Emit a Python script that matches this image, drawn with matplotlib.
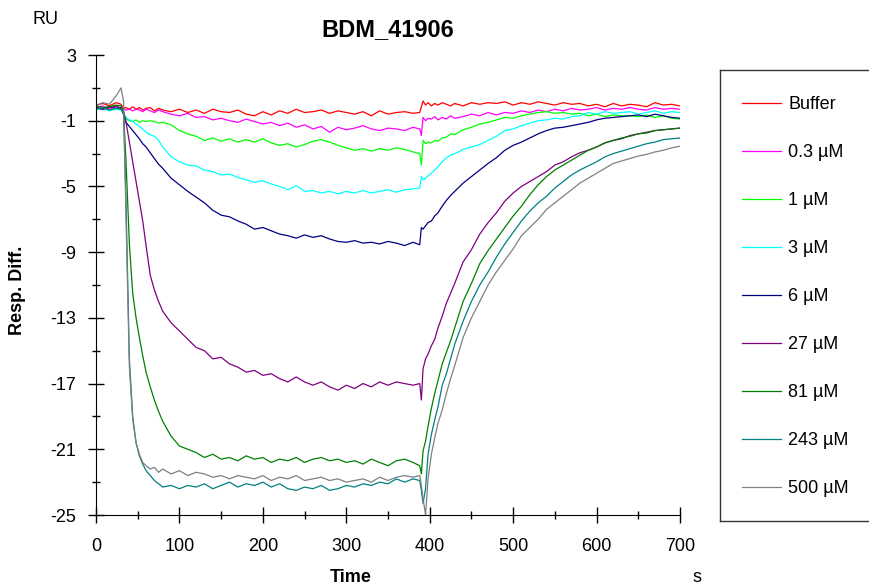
import matplotlib
matplotlib.use('Agg')
import matplotlib.pyplot as plt
from matplotlib.ticker import MultipleLocator

plt.rcParams['font.family'] = ['Liberation Sans', 'DejaVu Sans']
plt.rcParams['axes.unicode_minus'] = False

# time grid (s) shared by all sensorgrams
time_s = [0, 8, 16, 24, 30,
          33, 36, 40, 44, 48, 52, 56, 60,
          65, 70, 75, 80,
          90, 100, 110, 120, 130, 140, 150, 160, 170, 180,
          190, 200, 210, 220, 230, 240, 250, 260, 270, 280,
          290, 300, 310, 320, 330, 340, 350, 360, 370, 380,
          388, 390, 392, 395, 398,
          402, 406, 410, 415, 420, 425, 430,
          440, 450, 460, 470, 480, 490, 500, 510, 520, 530,
          540, 550, 560, 570, 580, 590, 600, 610, 620, 630,
          640, 650, 660, 670, 680, 690, 700]

buffer = [-0.05, 0.05, -0.1, 0.1, 0.0,
          -0.25, -0.2, -0.3, -0.15, -0.3, -0.2, -0.35, -0.25,
          -0.2, -0.4, -0.25, -0.35,
          -0.45, -0.3, -0.5, -0.35, -0.55, -0.3, -0.45, -0.5, -0.35, -0.6,
          -0.7, -0.45, -0.65, -0.4, -0.55, -0.3, -0.5, -0.45, -0.35, -0.55,
          -0.4, -0.5, -0.6, -0.45, -0.7, -0.4, -0.6, -0.5, -0.45, -0.55,
          -0.5, -0.15, 0.2, -0.05, 0.1,
          -0.1, 0.05, -0.05, 0.1, 0.0, -0.1, 0.05,
          -0.1, 0.1, 0.0, 0.1, 0.05, 0.15, -0.05, 0.1, 0.0, 0.15,
          0.05, -0.05, 0.1, 0.0, 0.05, -0.1, 0.0, -0.15, 0.05, -0.1,
          0.0, -0.05, -0.15, 0.1, -0.05, 0.0, -0.1]

c_03 = [-0.2, -0.1, -0.3, -0.15, -0.25,
        -0.3, -0.35, -0.3, -0.4, -0.3, -0.35, -0.45, -0.3,
        -0.4, -0.5, -0.35, -0.45,
        -0.6, -0.7, -0.55, -0.8, -0.75, -0.95, -0.85, -1.0, -1.1, -0.9,
        -1.05, -1.2, -1.1, -1.3, -1.15, -1.4, -1.25, -1.5, -1.35, -1.7,
        -1.4, -1.55, -1.45, -1.3, -1.5, -1.6, -1.45, -1.5, -1.6, -1.4,
        -1.5, -1.9, -0.8, -1.0, -0.85,
        -0.9, -0.75, -0.95, -0.8, -0.9, -0.7, -0.85,
        -0.75, -0.6, -0.7, -0.5, -0.65, -0.5, -0.55, -0.4, -0.5, -0.35,
        -0.45, -0.3, -0.4, -0.25, -0.35, -0.3, -0.2, -0.35, -0.25, -0.3,
        -0.2, -0.3, -0.35, -0.2, -0.3, -0.25, -0.3]

c_1 = [-0.2, -0.3, -0.15, -0.3, -0.2,
       -0.5, -0.9, -1.0, -1.05, -0.95, -1.1, -1.0, -1.05,
       -1.0, -1.05, -1.15, -1.1,
       -1.25, -1.6, -1.8, -1.95, -2.2, -2.05, -2.25, -2.1, -2.3, -2.15,
       -2.3, -2.1, -2.35, -2.5, -2.4, -2.6, -2.45, -2.25, -2.15, -2.3,
       -2.5, -2.65, -2.8, -2.7, -2.85, -2.7, -2.8, -2.65, -2.75, -2.9,
       -3.0, -3.7, -2.2, -2.4, -2.3,
       -2.35, -2.2, -2.25, -2.05, -2.0, -1.8, -1.85,
       -1.55, -1.4, -1.2, -1.1, -0.95, -0.8, -0.85, -0.7, -0.6, -0.5,
       -0.45, -0.55, -0.5, -0.6, -0.55, -0.7, -0.6, -0.75, -0.65, -0.7,
       -0.7, -0.75, -0.65, -0.8, -0.7, -0.85, -0.9]

c_3 = [-0.35, -0.25, -0.4, -0.3, -0.35,
       -0.6, -0.8, -0.95, -1.05, -1.2, -1.35, -1.5, -1.7,
       -1.85, -1.95, -2.2, -2.6,
       -3.2, -3.5, -3.7, -3.75, -4.0, -4.1, -4.3, -4.25, -4.45, -4.6,
       -4.75, -4.65, -4.85, -5.0, -5.2, -4.95, -5.3, -5.25, -5.4, -5.3,
       -5.45, -5.3, -5.4, -5.25, -5.4, -5.3, -5.2, -5.35, -5.2, -5.15,
       -5.1, -4.4, -4.6, -4.5, -4.35,
       -4.2, -4.0, -3.8, -3.5, -3.25, -3.1, -3.0,
       -2.75, -2.6, -2.45, -2.2, -1.95, -1.6, -1.5, -1.3, -1.15, -1.0,
       -0.95, -0.85, -0.9, -0.75, -0.7, -0.5, -0.6, -0.45, -0.55, -0.5,
       -0.45, -0.6, -0.5, -0.4, -0.55, -0.45, -0.5]

c_6 = [-0.2, -0.3, -0.15, -0.25, -0.2,
       -0.6, -1.1, -1.35, -1.6, -1.85, -2.1, -2.4, -2.6,
       -2.95, -3.3, -3.65, -3.9,
       -4.5, -4.9, -5.3, -5.65, -6.0, -6.45, -6.75, -6.85, -7.1, -7.3,
       -7.6, -7.5, -7.7, -7.9, -8.0, -8.15, -7.95, -8.1, -8.0, -8.2,
       -8.35, -8.4, -8.3, -8.45, -8.4, -8.5, -8.35, -8.45, -8.6, -8.4,
       -8.55, -7.5, -7.6, -7.4, -7.2,
       -7.1, -6.8, -6.6, -6.2, -5.85, -5.55, -5.3,
       -4.8, -4.4, -4.0, -3.6, -3.25, -2.8, -2.5, -2.3, -2.05, -1.8,
       -1.6, -1.45, -1.4, -1.3, -1.2, -1.1, -0.95, -0.85, -0.8, -0.75,
       -0.7, -0.65, -0.75, -0.6, -0.7, -0.8, -0.85]

c_27 = [-0.2, -0.3, -0.2, -0.1, -0.25,
        -0.4, -1.1, -2.3, -3.5, -4.7, -5.9, -7.1, -8.6,
        -10.4, -11.3, -12.0, -12.6,
        -13.3, -13.8, -14.3, -14.8, -15.0, -15.5, -15.4, -15.8, -16.0, -16.3,
        -16.2, -16.5, -16.4, -16.7, -16.9, -16.6, -16.9, -17.1, -16.9, -17.2,
        -17.4, -17.1, -17.3, -17.0, -17.2, -16.9, -17.1, -16.9, -17.0, -17.1,
        -17.0, -18.0, -16.1, -15.5, -15.2,
        -14.7, -14.3, -13.6, -12.9, -12.1, -11.5, -10.9,
        -9.6, -8.85, -7.9, -7.2, -6.6, -5.9, -5.4, -5.0, -4.7, -4.4,
        -4.1, -3.7, -3.5, -3.2, -2.95, -2.8, -2.6, -2.35, -2.2, -2.1,
        -1.9, -1.8, -1.7, -1.6, -1.55, -1.5, -1.45]

c_81 = [-0.1, -0.2, -0.15, -0.05, -0.1,
        -0.5, -3.5, -8.5, -11.5, -13.0, -14.2, -15.3, -16.3,
        -17.2, -18.0, -18.7, -19.3,
        -20.2, -20.8, -21.0, -21.2, -21.5, -21.3, -21.6, -21.5, -21.7, -21.4,
        -21.6, -21.5, -21.8, -21.6, -21.7, -21.5, -21.8, -21.6, -21.5, -21.7,
        -21.6, -21.8, -21.7, -21.9, -21.6, -21.8, -22.0, -21.7, -21.6, -21.8,
        -22.0, -22.5, -21.1, -20.5, -19.6,
        -18.5, -17.6, -16.8, -15.8, -15.1, -14.4, -13.6,
        -12.0, -10.9, -9.7, -8.9, -8.2, -7.5, -6.8, -6.2, -5.5, -4.9,
        -4.4, -4.0, -3.7, -3.4, -3.1, -2.8, -2.6, -2.35, -2.2, -2.05,
        -1.95, -1.8, -1.75, -1.6, -1.55, -1.5, -1.45]

c_243 = [-0.3, -0.2, -0.35, -0.25, -0.3,
         -0.5, -6.0, -15.5, -19.0, -20.6, -21.4, -21.9, -22.3,
         -22.6, -22.9, -23.1, -23.3,
         -23.2, -23.4, -23.2, -23.3, -23.1, -23.4, -23.2, -23.0, -23.3, -23.1,
         -23.2, -23.0, -23.3, -23.1, -23.4, -23.5, -23.3, -23.4, -23.2, -23.5,
         -23.4, -23.2, -23.3, -23.1, -23.2, -23.0, -23.1, -22.8, -23.0, -22.8,
         -22.9, -23.5, -24.3, -23.4, -21.3,
         -20.1, -19.2, -18.4, -17.1, -16.4, -15.5, -14.6,
         -13.2, -12.0, -11.0, -10.2, -9.3, -8.5, -7.8, -7.1, -6.5, -6.0,
         -5.6, -5.1, -4.7, -4.3, -4.0, -3.75, -3.5, -3.2, -3.0, -2.85,
         -2.7, -2.55, -2.4, -2.3, -2.15, -2.1, -2.05]

c_500 = [-0.1, 0.1, 0.0, 0.5, 1.0,
         0.2, -7.0, -16.0, -19.2, -20.6, -21.3, -21.8, -22.0,
         -22.2, -22.1, -22.4, -22.2,
         -22.5, -22.3, -22.6, -22.4, -22.5, -22.7, -22.6, -22.8, -22.6, -22.7,
         -22.8, -22.6, -22.9, -22.7, -22.8, -22.6, -22.9, -22.8, -22.7, -22.9,
         -22.8, -23.0, -22.9, -22.8, -23.0, -22.7, -22.9, -22.7, -22.6, -22.7,
         -22.6, -23.2, -24.0, -25.0, -22.8,
         -21.3, -20.3, -19.4, -18.6, -17.6, -16.7, -15.9,
         -14.2, -13.0, -12.0, -11.0, -10.2, -9.5, -8.8, -8.0, -7.5, -7.0,
         -6.4, -6.0, -5.6, -5.2, -4.8, -4.5, -4.2, -3.9, -3.6, -3.45,
         -3.3, -3.15, -3.05, -2.9, -2.8, -2.65, -2.55]

labels = ['Buffer', '0.3 µM', '1 µM', '3 µM', '6 µM', '27 µM', '81 µM', '243 µM', '500 µM']
colors = ['#ff0000', '#ff00ff', '#00ff00', '#00ffff', '#000080',
          '#800080', '#008000', '#008080', '#808080']
series = [buffer, c_03, c_1, c_3, c_6, c_27, c_81, c_243, c_500]

W, H = 869, 585
fig = plt.figure(figsize=(W / 100, H / 100), dpi=100)
ax = fig.add_axes([96 / W, 1 - 515 / H, 584 / W, 460 / H])

handles = []
for vals, col, lab in zip(series, colors, labels):
    ln, = ax.plot(time_s, vals, color=col, lw=0.9, label=lab)
    handles.append(ln)

ax.set_xlim(0, 700)
ax.set_ylim(-25, 3)
ax.xaxis.set_major_locator(MultipleLocator(100))
ax.xaxis.set_minor_locator(MultipleLocator(50))
ax.yaxis.set_major_locator(MultipleLocator(4, offset=3))
ax.yaxis.set_minor_locator(MultipleLocator(2, offset=1))
ax.tick_params(which='major', direction='inout', length=11, width=1, labelsize=13, pad=9)
ax.tick_params(axis='x', which='major', pad=11)
ax.tick_params(which='minor', direction='inout', length=6, width=1)
ax.spines['top'].set_visible(False)
ax.spines['right'].set_visible(False)

fig.text(388 / W, 1 - 30 / H, 'BDM_41906', ha='center', va='center', fontsize=17, fontweight='bold')
fig.text(45 / W, 1 - 20 / H, 'RU', ha='center', va='center', fontsize=13)
fig.text(351 / W, 1 - 577 / H, 'Time', ha='center', va='center', fontsize=13, fontweight='bold')
fig.text(697 / W, 1 - 577 / H, 's', ha='center', va='center', fontsize=13)
fig.text(18 / W, 1 - 290 / H, 'Resp. Diff.', ha='center', va='center', rotation=90,
         fontsize=13, fontweight='bold')

# legend box sticking out past the right edge
lax = fig.add_axes([720 / W, 1 - 521 / H, 300 / W, 451 / H])
lax.set_xticks([])
lax.set_yticks([])
for sp in lax.spines.values():
    sp.set_linewidth(1)
    sp.set_color('#333333')
lax.legend(handles, labels, loc='upper left', bbox_to_anchor=(22 / 300, 1 - 26 / 451),
           frameon=False, fontsize=13, handlelength=2.15, handletextpad=0.4,
           labelspacing=1.72, borderpad=0, borderaxespad=0)

fig.savefig('out.png', dpi=100)
